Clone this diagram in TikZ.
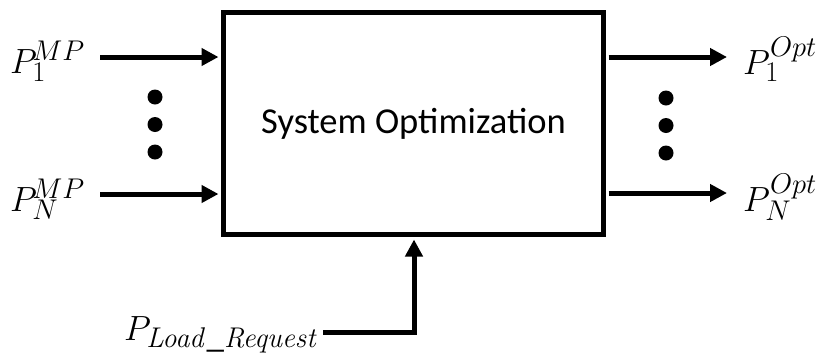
\documentclass[tikz,border=0pt]{standalone}
\usepackage{fix-cm}
\usepackage[no-math]{fontspec}
\setmainfont{Carlito}
\DeclareMathSizes{35}{35}{28.5}{20}
\usetikzlibrary{arrows.meta}
\begin{document}
\begin{tikzpicture}[x=1pt,y=-1pt,
  conn/.style={line width=5pt,-{Triangle[length=17pt,width=17pt]}},
  wire/.style={line width=5pt},
  dotc/.style={fill=black},
  lbl/.style={inner sep=0pt,font=\fontsize{35}{40}\selectfont},
  sysbox/.style={draw,line width=5pt,minimum width=380pt,minimum height=222pt,inner sep=0pt,font=\fontsize{36.5}{42}\selectfont}]
\useasboundingbox (0,0) rectangle (821,354);
\node[sysbox] (box) at (413.5,123.5) {System Optimization};
% left inputs
\node[lbl,anchor=base west] (in1) at (10,73) {$P_1^{\!MP}$};
\node[lbl,anchor=base west] (inN) at (10,211) {$P_N^{\!MP}$};
\coordinate (a1) at (100,57);
\coordinate (aN) at (100,194);
\draw[conn,shorten >=2.5pt] (a1) -- (a1 -| box.west);
\draw[conn,shorten >=2.5pt] (aN) -- (aN -| box.west);
% right outputs
\node[lbl,anchor=base west] (out1) at (743,74) {$P_1^{Opt}$};
\node[lbl,anchor=base west] (outN) at (743,211) {$P_N^{Opt}$};
\coordinate (b1) at (727,57);
\coordinate (bN) at (727,193);
\draw[conn,shorten <=2.5pt] (b1 -| box.east) -- (b1);
\draw[conn,shorten <=2.5pt] (bN -| box.east) -- (bN);
% dots
\foreach \y in {97,124.5,152} {\fill[dotc] (155,\y) circle (7.5);}
\foreach \y in {98,125.5,153} {\fill[dotc] (666,\y) circle (7.5);}
% load request
\node[lbl,anchor=base west] (load) at (124,340) {$P_{\mathit{Load\_Request}}$};
\coordinate (c1) at (323,332);
\coordinate (c2) at (414,332);
\draw[conn,shorten >=2.5pt] (c1) -- (c2) -- (c2 |- box.south);
\end{tikzpicture}
\end{document}
